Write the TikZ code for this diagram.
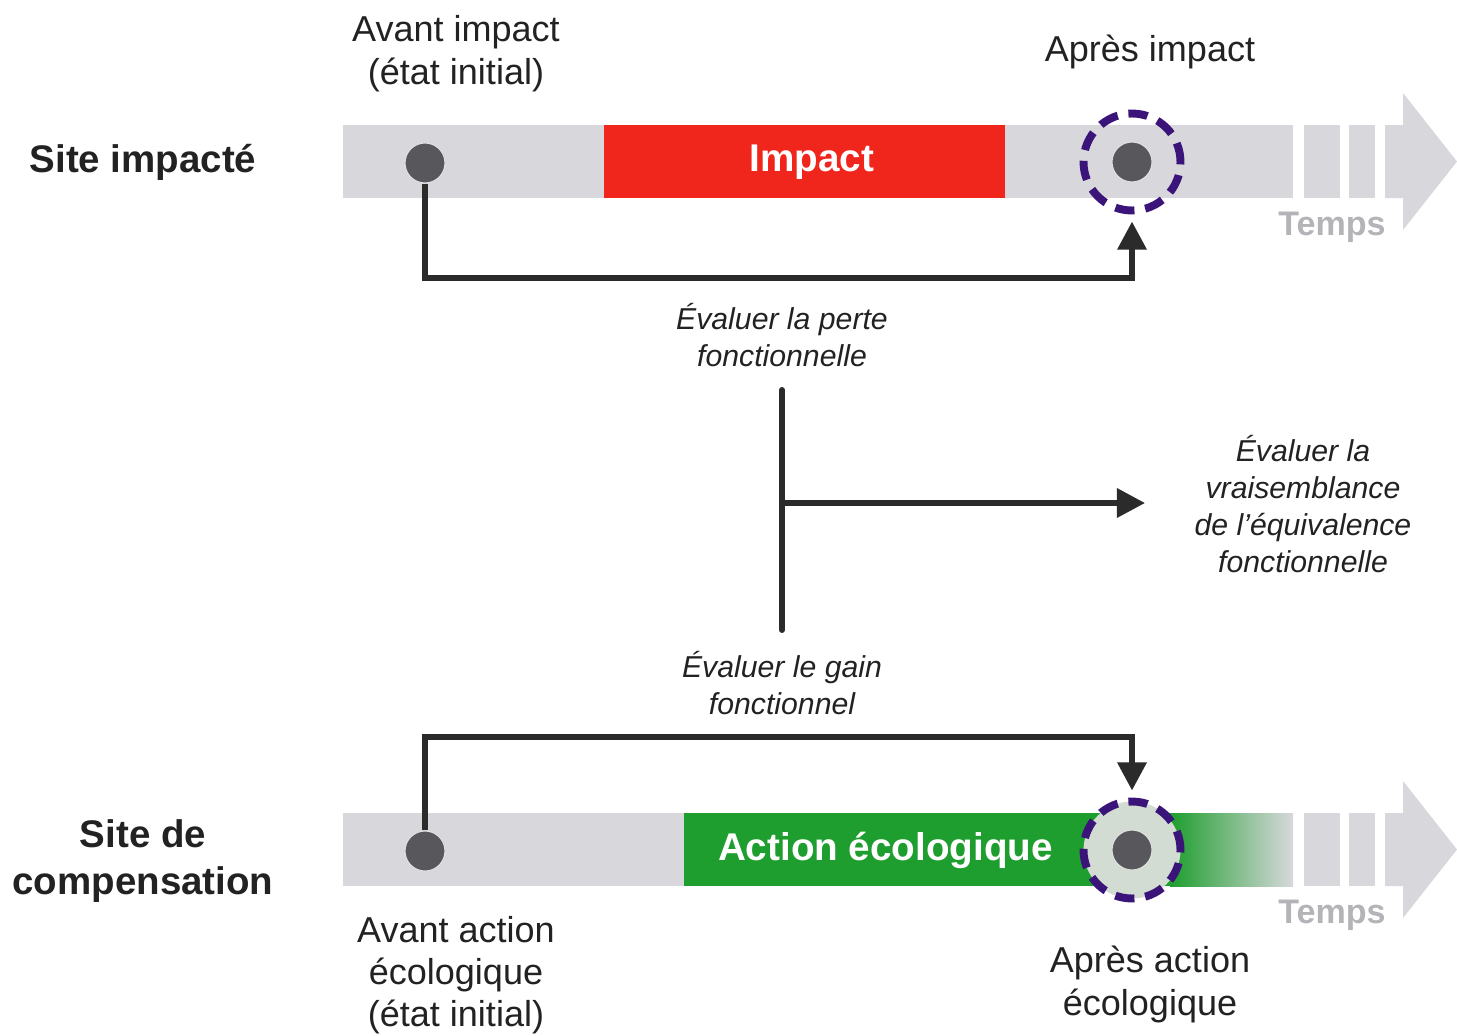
\documentclass[tikz,border=0pt]{standalone}
\usepackage{fontspec}
\setmainfont{Liberation Sans}
\usetikzlibrary{calc,arrows.meta,positioning}
\definecolor{bargray}{HTML}{D8D8DC}
\definecolor{dotgray}{HTML}{58585C}
\definecolor{impactred}{HTML}{F0261C}
\definecolor{actgreen}{HTML}{1E9E2E}
\definecolor{halogreen}{HTML}{D2DCD2}
\definecolor{ringpurple}{HTML}{3A1478}
\definecolor{linkgray}{HTML}{2B2B2B}
\definecolor{tempsgray}{HTML}{B4B4B8}
\definecolor{textdark}{HTML}{222222}
\newcommand{\lblfont}{\fontsize{20.5}{24.5}\selectfont}
\newcommand{\sitefont}{\fontsize{21.9}{26.7}\selectfont\bfseries}
\newcommand{\evalfont}{\fontsize{17.2}{20.9}\selectfont\itshape}
% time bar with its arrow, centred on y = #1
\newcommand{\timebar}[1]{
  \fill[bargray] (343,#1-36.5) rectangle (1293,#1+36.5);
  \fill[bargray] (1304,#1-36.5) rectangle (1340,#1+36.5);
  \fill[bargray] (1349,#1-36.5) rectangle (1375,#1+36.5);
  \fill[bargray] (1385,#1-36.5) -- (1403,#1-36.5) -- (1403,#1-68.5) -- (1457,#1)
     -- (1403,#1+68.5) -- (1403,#1+36.5) -- (1385,#1+36.5) -- cycle;}

\begin{document}
\begin{tikzpicture}[x=0.02cm,y=-0.02cm,
    dot/.style={circle,fill=dotgray,draw=white!88!black,line width=0.6pt,minimum size=0.8cm,inner sep=0pt},
    ring/.style={circle,draw=ringpurple,line width=4.5pt,dash pattern=on 11pt off 6.2pt,minimum size=1.94cm,inner sep=0pt},
    link/.style={draw=linkgray,line width=3.4pt,-{Triangle[length=16pt,width=16pt]},shorten >=4pt},
    trunk/.style={draw=linkgray,line width=3.4pt,line cap=round},
    lbl/.style={align=center,inner sep=0pt,text=textdark,font=\lblfont},
    site/.style={align=center,inner sep=0pt,text=textdark,font=\sitefont},
    eval/.style={align=center,inner sep=0pt,text=textdark,font=\evalfont},
    temps/.style={inner sep=0pt,text=tempsgray,font=\fontsize{19.4}{23}\selectfont\bfseries},
    barlabel/.style={inner sep=0pt,text=white,font=\fontsize{22}{26}\selectfont\bfseries}]
  \useasboundingbox (0,0) rectangle (1457,1035);

  % row 1: site impacte
  \timebar{161.5}
  \node[fill=impactred,minimum width=8.02cm,minimum height=1.46cm,inner sep=0pt] (impactbox) at (804.5,161.5) {};
  \node[barlabel] (impact) at (812,162) {Impact};
  \node[temps] (tempsA) at (1332,227) {Temps};

  % row 2: site de compensation
  \timebar{849.5}
  \fill[actgreen] (684,813) rectangle (1170,886);
  \shade[left color=actgreen,right color=bargray] (1170,813) rectangle (1293,886);
  \node[barlabel] (action) at (885.5,850) {Action écologique};
  \node[temps] (tempsB) at (1332,915) {Temps};

  % states
  \node[dot] (preA) at (425,163) {};
  \node[ring] (ringA) at (1132,162) {};
  \node[dot] (postA) at (ringA) {};
  \node[dot] (preB) at (425,851) {};
  \node[ring,fill=halogreen] (ringB) at (1132,850) {};
  \node[dot] (postB) at (ringB) {};

  % labels
  \node[site] (siteA) at (143,162) {Site impacté};
  \node[site] (siteB) at (143,861) {Site de\\compensation};
  \node[lbl] (preAlbl) at (456,54) {Avant impact\\(état initial)};
  \node[lbl] (postAlbl) at (1150,52) {Après impact};
  \node[lbl,font=\fontsize{20.5}{24}\selectfont] (preBlbl) at (456,975) {Avant action\\écologique\\(état initial)};
  \node[lbl] (postBlbl) at (1150,984) {Après action\\écologique};
  \node[eval] (loss) at (782,335) {Évaluer la perte\\fonctionnelle};
  \node[eval] (gain) at (782,683) {Évaluer le gain\\fonctionnel};
  \node[eval] (likely) at (1303,504) {Évaluer la\\vraisemblance\\de l’équivalence\\fonctionnelle};

  % connectors
  \coordinate (lossrow) at (0,278);
  \coordinate (gainrow) at (0,737);
  \draw[link] (preA.south) -- (preA |- lossrow) -| (ringA.south);
  \draw[link] (preB.north) -- (preB |- gainrow) -| (ringB.north);
  \coordinate (forktop) at (782,390);
  \coordinate (forkbot) at (782,630);
  \coordinate (fork) at (782,503);
  \draw[trunk] (forktop) -- (forkbot);
  \draw[link,shorten >=28pt] (fork) -- (fork -| likely.west);
\end{tikzpicture}
\end{document}
